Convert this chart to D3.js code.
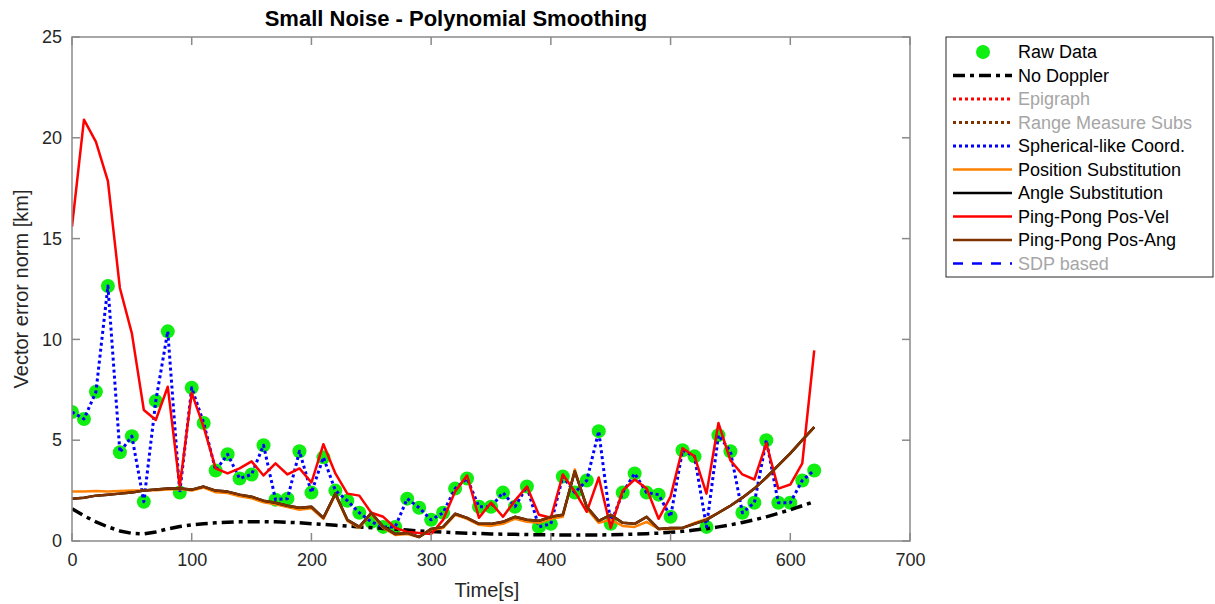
<!DOCTYPE html>
<html><head><meta charset="utf-8">
<script src="https://cdn.jsdelivr.net/npm/d3@7"></script>
<style>body{margin:0;background:#fff;} text{font-family:"Liberation Sans",Arial,sans-serif;}</style>
</head><body><svg id="c" width="1215" height="604"></svg>
<script>
const times = [0,10,20,30,40,50,60,70,80,90,100,110,120,130,140,150,160,170,180,190,200,210,220,230,240,250,260,270,280,290,300,310,320,330,340,350,360,370,380,390,400,410,420,430,440,450,460,470,480,490,500,510,520,530,540,550,560,570,580,590,600,610,620];
const rawData = [6.4,6.05,7.4,12.65,4.4,5.2,1.95,6.95,10.4,2.4,7.6,5.85,3.5,4.3,3.1,3.3,4.75,2.05,2.1,4.45,2.4,4.15,2.5,2.0,1.4,0.95,0.7,0.7,2.1,1.65,1.05,1.4,2.6,3.1,1.7,1.7,2.4,1.7,2.7,0.7,0.85,3.2,2.4,3.0,5.45,0.85,2.4,3.35,2.4,2.3,1.2,4.5,4.2,0.7,5.25,4.45,1.4,1.9,5.0,1.9,1.9,3.0,3.5];
const noDoppler = [1.6,1.25,0.95,0.7,0.5,0.38,0.35,0.45,0.6,0.72,0.8,0.86,0.9,0.93,0.95,0.96,0.96,0.95,0.93,0.9,0.86,0.82,0.78,0.74,0.7,0.66,0.62,0.58,0.54,0.5,0.47,0.44,0.41,0.39,0.37,0.35,0.34,0.33,0.32,0.31,0.31,0.3,0.3,0.3,0.3,0.31,0.32,0.34,0.36,0.39,0.43,0.48,0.54,0.61,0.7,0.8,0.92,1.05,1.2,1.37,1.55,1.75,1.95];
const spherical = rawData.slice();
const positionSub = [2.45,2.45,2.48,2.45,2.48,2.5,2.5,2.52,2.55,2.58,2.5,2.65,2.42,2.38,2.22,2.12,1.92,1.82,1.68,1.55,1.62,1.1,2.3,1.0,0.65,1.35,0.65,0.3,0.35,0.2,0.55,0.65,1.3,1.1,0.8,0.75,0.85,1.1,0.95,0.9,1.1,1.2,3.55,1.6,0.9,1.05,0.75,0.7,0.95,0.6,0.6,0.65,0.9,1.1,1.4,1.75,2.15,2.6,3.15,3.75,4.35,5.0,5.65];
const pingPongPosAng = [2.1,2.15,2.25,2.3,2.35,2.4,2.5,2.55,2.6,2.6,2.55,2.7,2.5,2.45,2.3,2.2,2.0,1.9,1.75,1.65,1.7,1.15,2.35,1.05,0.7,1.4,0.7,0.35,0.4,0.2,0.6,0.7,1.35,1.15,0.85,0.85,0.95,1.2,1.05,1.0,1.2,1.3,3.45,1.7,1.0,1.3,0.9,0.85,1.2,0.6,0.65,0.65,0.85,1.05,1.4,1.75,2.15,2.6,3.15,3.75,4.35,5.0,5.65];
const angleSub = pingPongPosAng.slice();
const pingPongPosVel = [15.6,20.9,19.8,17.85,12.55,10.3,6.5,6.0,7.65,2.7,7.35,5.65,3.6,3.35,3.6,3.95,3.25,3.85,3.3,3.6,2.9,4.8,3.35,2.35,2.25,1.4,1.2,0.65,0.45,0.4,0.35,1.05,2.45,3.25,1.15,1.9,1.2,2.0,2.7,1.3,1.15,3.3,2.45,1.45,3.15,0.65,2.5,3.05,2.6,1.1,2.2,4.6,4.2,2.35,5.85,4.0,3.3,3.05,4.85,2.6,2.8,3.85,9.45];
const xTicks = [0,100,200,300,400,500,600,700];
const yTicks = [0,5,10,15,20,25];
const legendLabels = ["Raw Data","No Doppler","Epigraph","Range Measure Subs","Spherical-like Coord.","Position Substitution","Angle Substitution","Ping-Pong Pos-Vel","Ping-Pong Pos-Ang","SDP based"];
const titleText = "Small Noise - Polynomial Smoothing";

const svg = d3.select("#c");
const L=72,R=910,T=37,B=541;
const x = d3.scaleLinear().domain([0,700]).range([L,R]);
const y = d3.scaleLinear().domain([0,25]).range([B,T]);
const axisCol="#262626", boxCol="#8a8a8a";
svg.append("rect").attr("width",1215).attr("height",604).attr("fill","#fff");

const clip = svg.append("clipPath").attr("id","cl").append("rect").attr("x",L).attr("y",T).attr("width",R-L).attr("height",B-T);
const g = svg.append("g").attr("clip-path","url(#cl)");
const line = vals => d3.line().x((d,i)=>x(times[i])).y(d=>y(d))(vals);

// raw data markers
g.selectAll("circle.raw").data(rawData).join("circle").attr("cx",(d,i)=>x(times[i])).attr("cy",d=>y(d)).attr("r",7).attr("fill","#11ee11");
const series = [
 {v:noDoppler,c:"#000",w:3.5,da:"12,5,4,5"},
 {v:spherical,c:"#0000ff",w:3,da:"3,3"},
 {v:positionSub,c:"#ff8000",w:2.5,da:null},
 {v:angleSub,c:"#000",w:2.5,da:null},
 {v:pingPongPosVel,c:"#ff0000",w:2.5,da:null},
 {v:pingPongPosAng,c:"#7f3300",w:2.5,da:null}
];
series.forEach(s=>{
  g.append("path").attr("d",line(s.v)).attr("fill","none").attr("stroke",s.c).attr("stroke-width",s.w).attr("stroke-dasharray",s.da).attr("stroke-linejoin","round");
});

// axes
const ax = svg.append("g");
ax.append("g").attr("transform",`translate(0,${B})`).call(d3.axisBottom(x).tickValues(xTicks).tickSize(0).tickPadding(12).tickFormat(d3.format("d")));
ax.append("g").attr("transform",`translate(${L},0)`).call(d3.axisLeft(y).tickValues(yTicks).tickSize(0).tickPadding(10).tickFormat(d3.format("d")));
ax.selectAll(".domain").remove();
ax.selectAll(".tick text").attr("fill",axisCol).style("font-size","18px").style("font-family","Liberation Sans, Arial, sans-serif");
// box and inward ticks
svg.append("rect").attr("x",L).attr("y",T).attr("width",R-L).attr("height",B-T).attr("fill","none").attr("stroke",boxCol).attr("stroke-width",1.5);
xTicks.forEach(t=>{
  svg.append("line").attr("x1",x(t)).attr("x2",x(t)).attr("y1",B).attr("y2",B-8).attr("stroke",boxCol).attr("stroke-width",1.5);
  svg.append("line").attr("x1",x(t)).attr("x2",x(t)).attr("y1",T).attr("y2",T+8).attr("stroke",boxCol).attr("stroke-width",1.5);
});
yTicks.forEach(t=>{
  svg.append("line").attr("x1",L).attr("x2",L+8).attr("y1",y(t)).attr("y2",y(t)).attr("stroke",boxCol).attr("stroke-width",1.5);
  svg.append("line").attr("x1",R).attr("x2",R-8).attr("y1",y(t)).attr("y2",y(t)).attr("stroke",boxCol).attr("stroke-width",1.5);
});
svg.append("text").attr("x",456).attr("y",26).attr("text-anchor","middle").attr("font-weight","bold").attr("font-size",22).attr("fill","#000").text(titleText);
svg.append("text").attr("x",(L+R)/2-4).attr("y",597).attr("text-anchor","middle").attr("font-size",20).attr("fill",axisCol).text("Time[s]");
svg.append("text").attr("transform",`translate(28,${(T+B)/2}) rotate(-90)`).attr("text-anchor","middle").attr("font-size",20).attr("fill",axisCol).text("Vector error norm [km]");

// legend
const lg = svg.append("g");
lg.append("rect").attr("x",946).attr("y",37).attr("width",267).attr("height",240).attr("fill","#fff").attr("stroke","#262626").attr("stroke-width",1);
const legStyles = [
 {type:"m"},
 {c:"#000",w:3.5,da:"12,5,4,5"},
 {c:"#ff0000",w:3,da:"3,3",off:true},
 {c:"#7f3300",w:3,da:"3,3",off:true},
 {c:"#0000ff",w:3,da:"3,3"},
 {c:"#ff8000",w:2.5},
 {c:"#000",w:2.5},
 {c:"#ff0000",w:2.5},
 {c:"#7f3300",w:2.5},
 {c:"#0000ff",w:2.5,da:"10,9",off:true}
];
legendLabels.forEach((lab,i)=>{
  const yy = 52 + i*23.5;
  const s = legStyles[i];
  if(s.type==="m"){
    lg.append("circle").attr("cx",983).attr("cy",yy).attr("r",7).attr("fill","#11ee11");
  } else {
    lg.append("line").attr("x1",953).attr("x2",1012).attr("y1",yy).attr("y2",yy).attr("stroke",s.c).attr("stroke-width",s.w).attr("stroke-dasharray",s.da||null);
  }
  lg.append("text").attr("x",1018).attr("y",yy+6).attr("font-size",18).attr("fill",s.off?"#a6a6a6":"#000").text(lab);
});
</script></body></html>
